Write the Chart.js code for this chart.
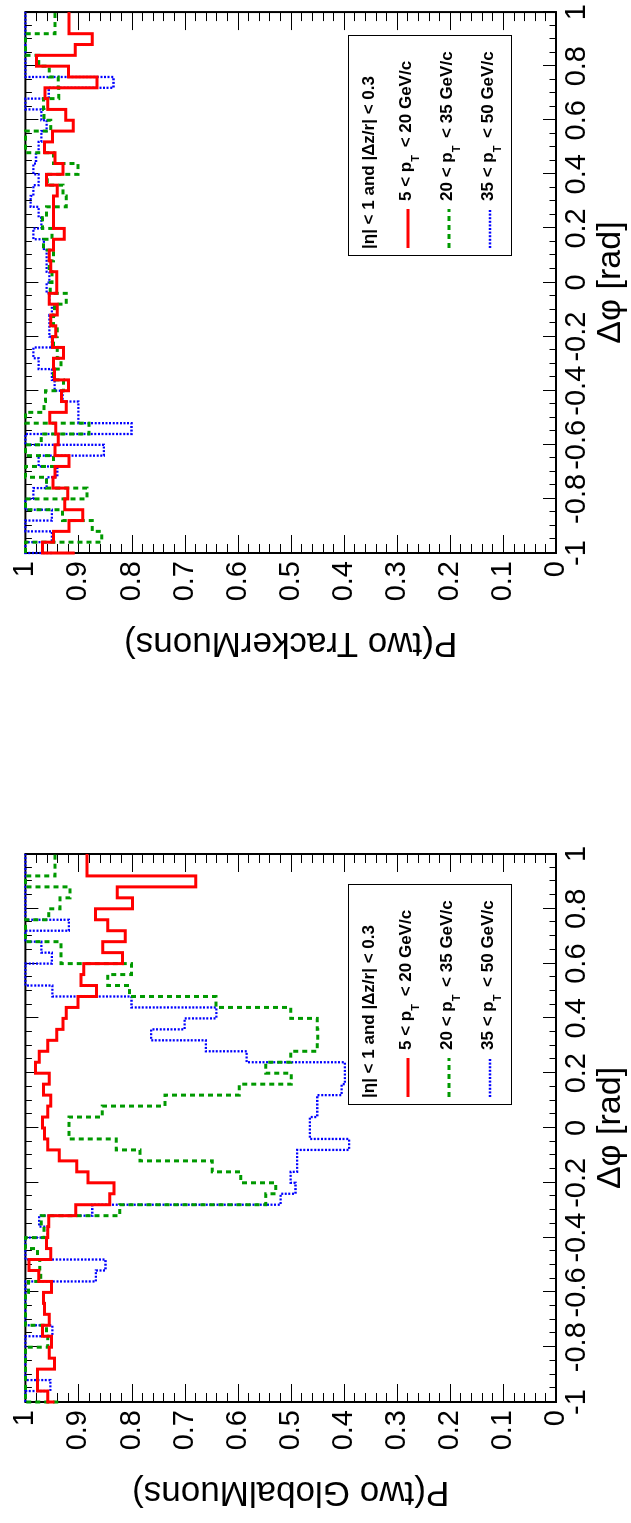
<!DOCTYPE html>
<html>
<head>
<meta charset="utf-8">
<script src="https://cdn.jsdelivr.net/npm/chart.js@4.4.1/dist/chart.umd.min.js"></script>
<style>
html, body { margin: 0; padding: 0; background: #fff; overflow: hidden; }
/* the figure is drawn landscape and turned a quarter turn to the left */
#fig { position: absolute; left: 0; top: 0; width: 1523px; height: 631px;
       transform-origin: 0 0; transform: translate(0px, 1523px) rotate(-90deg); }
#fig canvas { position: absolute; top: 0; }
</style>
</head>
<body>
<div id="fig">
  <canvas id="globalChart" width="761" height="631" style="left:0px"></canvas>
  <canvas id="trackerChart" width="762" height="631" style="left:761px"></canvas>
</div>
<script>
// 50 bins in delta phi, from -1 to 1
const binEdges = Array.from({length: 51}, (_, i) => Math.round((-1 + 0.04 * i) * 100) / 100);
const xTicks = [-1, -0.8, -0.6, -0.4, -0.2, 0, 0.2, 0.4, 0.6, 0.8, 1];
const yTicks = [0, 0.1, 0.2, 0.3, 0.4, 0.5, 0.6, 0.7, 0.8, 0.9, 1];

const legendHeader = '|η| < 1 and |Δz/r| < 0.3';
const seriesLabels = ['5 < p_T < 20 GeV/c', '20 < p_T < 35 GeV/c', '35 < p_T < 50 GeV/c'];

// P(two GlobalMuons), bins ordered from dphi = -1 upwards
const globalRed = [0.945,0.958,0.977,0.977,0.945,0.955,0.951,0.968,0.955,0.964,
  0.966,0.951,0.975,0.993,0.952,0.960,0.958,0.956,0.905,0.841,
  0.833,0.882,0.903,0.936,0.958,0.964,0.968,0.958,0.952,0.966,
  0.955,0.981,0.974,0.958,0.941,0.929,0.923,0.901,0.866,0.895,
  0.890,0.817,0.854,0.812,0.845,0.868,0.798,0.827,0.679,0.884];
const globalGreen = [0.938,1,1,1,1,1,0.958,0.960,1,1,
  1,0.994,0.971,0.973,0.977,1,0.965,0.970,0.822,0.547,
  0.528,0.594,0.648,0.784,0.829,0.918,0.918,0.855,0.737,0.597,
  0.499,0.547,0.500,0.450,0.449,0.450,0.500,0.641,0.804,0.845,
  0.800,0.933,0.933,1,1,0.956,0.935,0.916,1,0.944];
const globalBlue = [1,1,0.953,1,1,1,1,0.949,1,1,
  1,1,0.867,0.849,1,1,0.958,0.974,0.874,0.519,
  0.491,0.500,0.488,0.488,0.390,0.464,0.464,0.450,0.450,0.404,
  0.398,0.398,0.583,0.660,0.763,0.700,0.640,0.800,0.949,1,
  1,0.950,0.970,1,0.918,1,1,1,1,1];

// P(two TrackerMuons)
const trackerRed = [0.907,0.968,0.947,0.918,0.892,0.926,0.920,0.948,0.944,0.918,
  0.944,0.938,0.943,0.954,0.923,0.932,0.919,0.945,0.947,0.928,
  0.949,0.943,0.952,0.940,0.955,0.941,0.941,0.952,0.955,0.947,
  0.927,0.947,0.947,0.947,0.940,0.960,0.929,0.944,0.964,0.949,
  0.910,0.924,0.958,0.963,0.865,0.919,0.979,0.906,0.874,0.918];
const trackerGreen = [1,1,0.856,0.874,0.930,1,0.884,0.960,1,0.947,
  1,0.970,0.880,1,0.965,0.962,0.928,0.947,0.933,0.940,
  0.947,0.940,0.947,0.945,0.923,0.953,0.950,0.955,0.947,0.966,
  0.950,0.968,0.960,0.923,0.929,0.959,0.901,0.947,1,1,
  0.952,0.965,0.966,0.937,0.938,0.955,0.975,1,1,0.944];
const trackerBlue = [0.950,1,0.950,1,0.950,1,0.985,0.960,0.940,0.975,
  0.852,1,0.800,0.900,0.900,0.930,0.945,0.950,0.975,0.985,
  0.950,0.955,0.955,0.950,0.955,0.960,0.955,0.960,0.960,0.965,
  0.985,0.970,0.975,0.990,0.985,0.975,0.985,0.980,0.975,0.970,
  0.960,0.970,1,0.956,0.834,1,1,1,1,1];

const FONT = '"Liberation Sans", Arial, Helvetica, sans-serif';

function histPoints(vals) {
  const pts = vals.map((v, i) => ({x: binEdges[i], y: v}));
  pts.push({x: binEdges[vals.length], y: vals[vals.length - 1]});
  return pts;
}

function fmt(v) {
  const r = Math.round(v * 10) / 10;
  return String(r === 0 ? 0 : r);
}

// frame with root-style inward ticks on all four sides
const rootFrame = {
  id: 'rootFrame',
  beforeDatasetsDraw(chart) {
    const {ctx, chartArea: a, scales: {x, y}} = chart;
    ctx.save();
    ctx.strokeStyle = '#000';
    ctx.lineWidth = 1;
    ctx.beginPath();
    for (let i = 0; i <= 40; i++) {
      const px = Math.round(x.getPixelForValue(-1 + i * 0.05)) + 0.5;
      const len = i % 4 === 0 ? 13 : 6.5;
      ctx.moveTo(px, a.bottom); ctx.lineTo(px, a.bottom - len);
      ctx.moveTo(px, a.top); ctx.lineTo(px, a.top + len);
    }
    for (let i = 0; i <= 50; i++) {
      const py = Math.round(y.getPixelForValue(i * 0.02)) + 0.5;
      const len = i % 5 === 0 ? 18 : 9;
      ctx.moveTo(a.left, py); ctx.lineTo(a.left + len, py);
      ctx.moveTo(a.right, py); ctx.lineTo(a.right - len, py);
    }
    ctx.stroke();
    ctx.lineWidth = 2;
    ctx.strokeRect(a.left, a.top, a.right - a.left, a.bottom - a.top);
    ctx.restore();
  }
};

function drawSubText(ctx, text, x, y) {
  const parts = text.split(/_(\w)/);
  parts.forEach((p, i) => {
    if (i % 2 === 1) {
      ctx.font = 'bold 11px ' + FONT;
      ctx.fillText(p, x, y + 10);
    } else {
      ctx.font = 'bold 17px ' + FONT;
      ctx.fillText(p, x, y);
    }
    x += ctx.measureText(p).width + (i % 2 === 1 ? 3 : 0);
  });
}

const rootLegend = {
  id: 'rootLegend',
  afterDatasetsDraw(chart) {
    const {ctx, chartArea: a} = chart;
    const L = a.left;
    ctx.save();
    ctx.fillStyle = '#fff';
    ctx.fillRect(L + 297, 348, 220, 163);
    ctx.strokeStyle = '#000';
    ctx.lineWidth = 1;
    ctx.strokeRect(L + 297.5, 348.5, 220, 163);
    ctx.fillStyle = '#000';
    ctx.textBaseline = 'middle';
    ctx.textAlign = 'left';
    ctx.font = 'bold 17px ' + FONT;
    ctx.fillText(legendHeader, L + 304, 369);
    chart.data.datasets.forEach((ds, i) => {
      const yl = 408 + 41 * i;
      ctx.strokeStyle = ds.borderColor;
      ctx.lineWidth = ds.borderWidth;
      ctx.setLineDash(ds.borderDash || []);
      ctx.beginPath();
      ctx.moveTo(L + 305, yl);
      ctx.lineTo(L + 344, yl);
      ctx.stroke();
      ctx.setLineDash([]);
      ctx.fillStyle = '#000';
      drawSubText(ctx, ds.label, L + 352, yl - 2);
    });
    ctx.restore();
  }
};

function makeChart(id, yTitle, yAxisWidth, rightPad, titlePad, red, green, blue) {
  const line = {pointRadius: 0, fill: false, tension: 0, stepped: 'after', clip: false,
                borderJoinStyle: 'miter', borderCapStyle: 'butt'};
  return new Chart(document.getElementById(id), {
    type: 'line',
    data: {
      datasets: [
        Object.assign({label: seriesLabels[0], data: histPoints(red), borderColor: '#ff0000', borderWidth: 3}, line),
        Object.assign({label: seriesLabels[1], data: histPoints(green), borderColor: '#009900', borderWidth: 3, borderDash: [5, 4]}, line),
        Object.assign({label: seriesLabels[2], data: histPoints(blue), borderColor: '#0000ff', borderWidth: 2.3, borderDash: [2, 1.6]}, line)
      ]
    },
    options: {
      responsive: false,
      animation: false,
      devicePixelRatio: 1,
      layout: {autoPadding: false, padding: {left: 0, right: rightPad, top: 21, bottom: 0}},
      plugins: {legend: {display: false}, tooltip: {enabled: false}},
      scales: {
        x: {
          type: 'linear', min: -1, max: 1,
          grid: {display: false, drawTicks: false},
          border: {display: false},
          afterBuildTicks: s => { s.ticks = xTicks.map(v => ({value: v})); },
          afterFit: s => { s.height = 75; },
          ticks: {autoSkip: false, maxRotation: 0, padding: 4, color: '#000',
                  font: {family: FONT, size: 29}, callback: v => fmt(v)},
          title: {display: true, text: 'Δφ [rad]', color: '#000', padding: 0,
                  font: {family: FONT, size: 34}}
        },
        y: {
          type: 'linear', min: 0, max: 1,
          grid: {display: false, drawTicks: false},
          border: {display: false},
          afterBuildTicks: s => { s.ticks = yTicks.map(v => ({value: v})); },
          afterFit: s => { s.width = yAxisWidth; },
          ticks: {autoSkip: false, padding: 8, color: '#000',
                  font: {family: FONT, size: 29}, callback: v => fmt(v)},
          title: {display: true, text: yTitle, color: '#000', padding: {top: titlePad, bottom: 0},
                  font: {family: FONT, size: 35}}
        }
      }
    },
    plugins: [rootFrame, rootLegend]
  });
}

makeChart('globalChart', 'P(two GlobalMuons)', 121, 92, 10, globalRed, globalGreen, globalBlue);
makeChart('trackerChart', 'P(two TrackerMuons)', 209, 5, 98, trackerRed, trackerGreen, trackerBlue);
</script>
</body>
</html>
